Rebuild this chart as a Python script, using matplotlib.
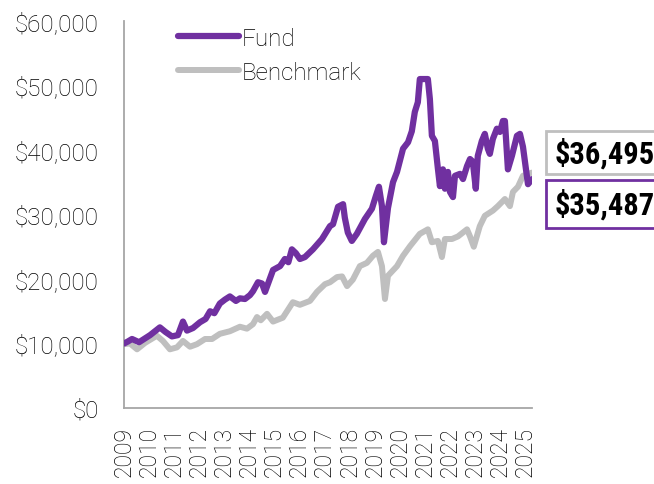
import matplotlib
matplotlib.use("Agg")
import matplotlib.pyplot as plt
from matplotlib.patches import Rectangle
from matplotlib.ticker import FuncFormatter
from matplotlib import font_manager as fm

# ---------------- data ----------------
fund_t = [2009.00, 2009.15, 2009.32, 2009.60, 2010.04, 2010.43, 2010.65, 2010.91, 2011.15, 2011.35,
          2011.51, 2011.75, 2012.03, 2012.25, 2012.43, 2012.60, 2012.82, 2013.02, 2013.22, 2013.46,
          2013.62, 2013.82, 2014.02, 2014.14, 2014.34, 2014.50, 2014.62, 2014.94, 2015.22, 2015.41,
          2015.55, 2015.69, 2015.85, 2016.01, 2016.21, 2016.53, 2016.89, 2017.21, 2017.33, 2017.53,
          2017.73, 2017.80, 2017.92, 2018.08, 2018.28, 2018.60, 2018.88, 2019.04, 2019.16, 2019.28,
          2019.36, 2019.52, 2019.72, 2019.88, 2020.12, 2020.32, 2020.47, 2020.59, 2020.71, 2020.79,
          2021.11, 2021.19, 2021.27, 2021.39, 2021.51, 2021.59, 2021.71, 2021.79, 2021.91, 2021.99,
          2022.11, 2022.19, 2022.39, 2022.51, 2022.67, 2022.79, 2022.90, 2023.02, 2023.10, 2023.26,
          2023.38, 2023.50, 2023.58, 2023.70, 2023.86, 2023.98, 2024.10, 2024.18, 2024.30, 2024.46,
          2024.66, 2024.78, 2024.90, 2025.02, 2025.10, 2025.26]
fund_v = [10000, 10300, 10700, 10200, 11300, 12500, 11800, 11100, 11300, 13400,
          12000, 12400, 13300, 13800, 15000, 14700, 16200, 16800, 17300, 16600,
          17000, 16900, 17500, 18100, 19500, 19300, 18000, 21400, 22000, 23100,
          22600, 24600, 24000, 23100, 23400, 24600, 26200, 28200, 28500, 31200,
          31600, 29500, 27200, 25900, 27000, 29300, 30900, 32900, 34300, 31300,
          25700, 31000, 35000, 36600, 40200, 41200, 42900, 45900, 47400, 51000,
          51000, 47900, 42200, 41400, 37100, 34400, 37000, 34000, 36600, 33500,
          32700, 36000, 36300, 35500, 37500, 38600, 38200, 34000, 39100, 41400,
          42500, 40200, 39400, 41700, 43300, 42800, 44500, 44500, 37000, 39100,
          42200, 42500, 40500, 37000, 34700, 35487]

bench_t = [2009.00, 2009.24, 2009.52, 2009.84, 2010.31, 2010.55, 2010.83, 2011.11, 2011.35, 2011.63,
           2011.91, 2012.23, 2012.51, 2012.82, 2013.22, 2013.62, 2013.90, 2014.14, 2014.30, 2014.45,
           2014.70, 2014.94, 2015.33, 2015.73, 2016.01, 2016.41, 2016.69, 2017.01, 2017.21, 2017.49,
           2017.69, 2017.89, 2018.12, 2018.40, 2018.68, 2018.92, 2019.12, 2019.28, 2019.40, 2019.52,
           2019.88, 2020.12, 2020.40, 2020.79, 2021.11, 2021.27, 2021.51, 2021.67, 2021.79, 2022.07,
           2022.31, 2022.67, 2022.79, 2022.94, 2023.18, 2023.38, 2023.70, 2023.90, 2024.18, 2024.38,
           2024.50, 2024.70, 2024.90, 2025.10, 2025.26]
bench_v = [9900, 10000, 9100, 10100, 11200, 10400, 9100, 9400, 10400, 9500,
           9900, 10700, 10700, 11500, 11900, 12600, 12300, 13000, 14100, 13600,
           14600, 13400, 14000, 16400, 16000, 16600, 18000, 19200, 19500, 20300,
           20400, 18900, 19900, 22000, 22500, 23600, 24200, 22000, 16900, 20500,
           22000, 23600, 25100, 27000, 27700, 25700, 25900, 23400, 26200, 26200,
           26600, 27700, 26600, 25000, 28200, 29800, 30600, 31300, 32400, 31300,
           33500, 34300, 36000, 36300, 36495]

years = list(range(2009, 2026))
y_ticks = [0, 10000, 20000, 30000, 40000, 50000, 60000]
series_names = ["Fund", "Benchmark"]

# ---------------- style ----------------
PURPLE = "#7030A0"
GRAY = "#BFBFBF"
TEXT = "#000000"
plt.rcParams['font.family'] = ['Roboto', 'DejaVu Sans']

# pick a condensed bold face if one is installed
cond_family = None
for f in fm.fontManager.ttflist:
    if f.name in ('Liberation Sans Narrow', 'Roboto Condensed', 'DejaVu Sans Condensed',
                  'Open Sans Condensed', 'Arial Narrow'):
        cond_family = f.name
        break
if cond_family is None:
    for f in fm.fontManager.ttflist:
        if 'condensed' in str(f.stretch).lower() and f.weight in (700, 'bold'):
            cond_family = f.name
            break
box_font = dict(family=[cond_family] if cond_family else ['Roboto', 'DejaVu Sans'],
                fontweight='bold', fontstretch='condensed',
                fontsize=22 if cond_family else 19)

fig = plt.figure(figsize=(6.54, 4.85), dpi=100)
ax = fig.add_axes([124/654, 1-409/485, 408/654, (409-22)/485])

ax.plot(bench_t, bench_v, color=GRAY, lw=4.3, solid_capstyle='round',
        solid_joinstyle='round', label=series_names[1], zorder=2)
ax.plot(fund_t, fund_v, color=PURPLE, lw=4.5, solid_capstyle='round',
        solid_joinstyle='round', label=series_names[0], zorder=3)

ax.set_xlim(2009, 2025.26)
ax.set_ylim(0, 60000)
ax.set_xticks(years)
ax.set_xticklabels([str(y) for y in years], rotation=90, fontsize=16.5,
                   fontweight='light', color=TEXT)
ax.set_yticks(y_ticks)
ax.yaxis.set_major_formatter(FuncFormatter(lambda v, p: f"${v:,.0f}"))
for lab in ax.get_yticklabels():
    lab.set_fontsize(17.5)
    lab.set_fontweight('light')
    lab.set_color(TEXT)
ax.tick_params(axis='y', length=0, pad=18)
ax.tick_params(axis='x', length=0, pad=13)

for s in ['top', 'right']:
    ax.spines[s].set_visible(False)
for s in ['left', 'bottom']:
    ax.spines[s].set_color('#A6A6A6')
    ax.spines[s].set_linewidth(1.3)

handles, labels = ax.get_legend_handles_labels()
order = [1, 0]
leg = ax.legend([handles[i] for i in order], [labels[i] for i in order],
                loc='upper left', bbox_to_anchor=((178-124)/408, 1-6/387),
                frameon=False, fontsize=17.5, handlelength=2.5, handletextpad=0.1,
                labelspacing=0.45, borderpad=0, borderaxespad=0)
for t in leg.get_texts():
    t.set_fontweight('light')
    t.set_color(TEXT)

# ---------------- end-value boxes ----------------
def end_box(y_top, y_bot, edge, value):
    rect = Rectangle((546/654, 1-y_bot/485), 0.3, (y_bot-y_top)/485,
                     transform=fig.transFigure, facecolor='white',
                     edgecolor=edge, linewidth=2, clip_on=False)
    fig.add_artist(rect)
    fig.text(555/654, 1-(y_top+y_bot)/2/485, f"${value:,.0f}",
             ha='left', va='center', color='black', **box_font)

end_box(132, 175, GRAY, bench_v[-1])
end_box(181, 229, PURPLE, fund_v[-1])

fig.savefig("out.png", dpi=100)
